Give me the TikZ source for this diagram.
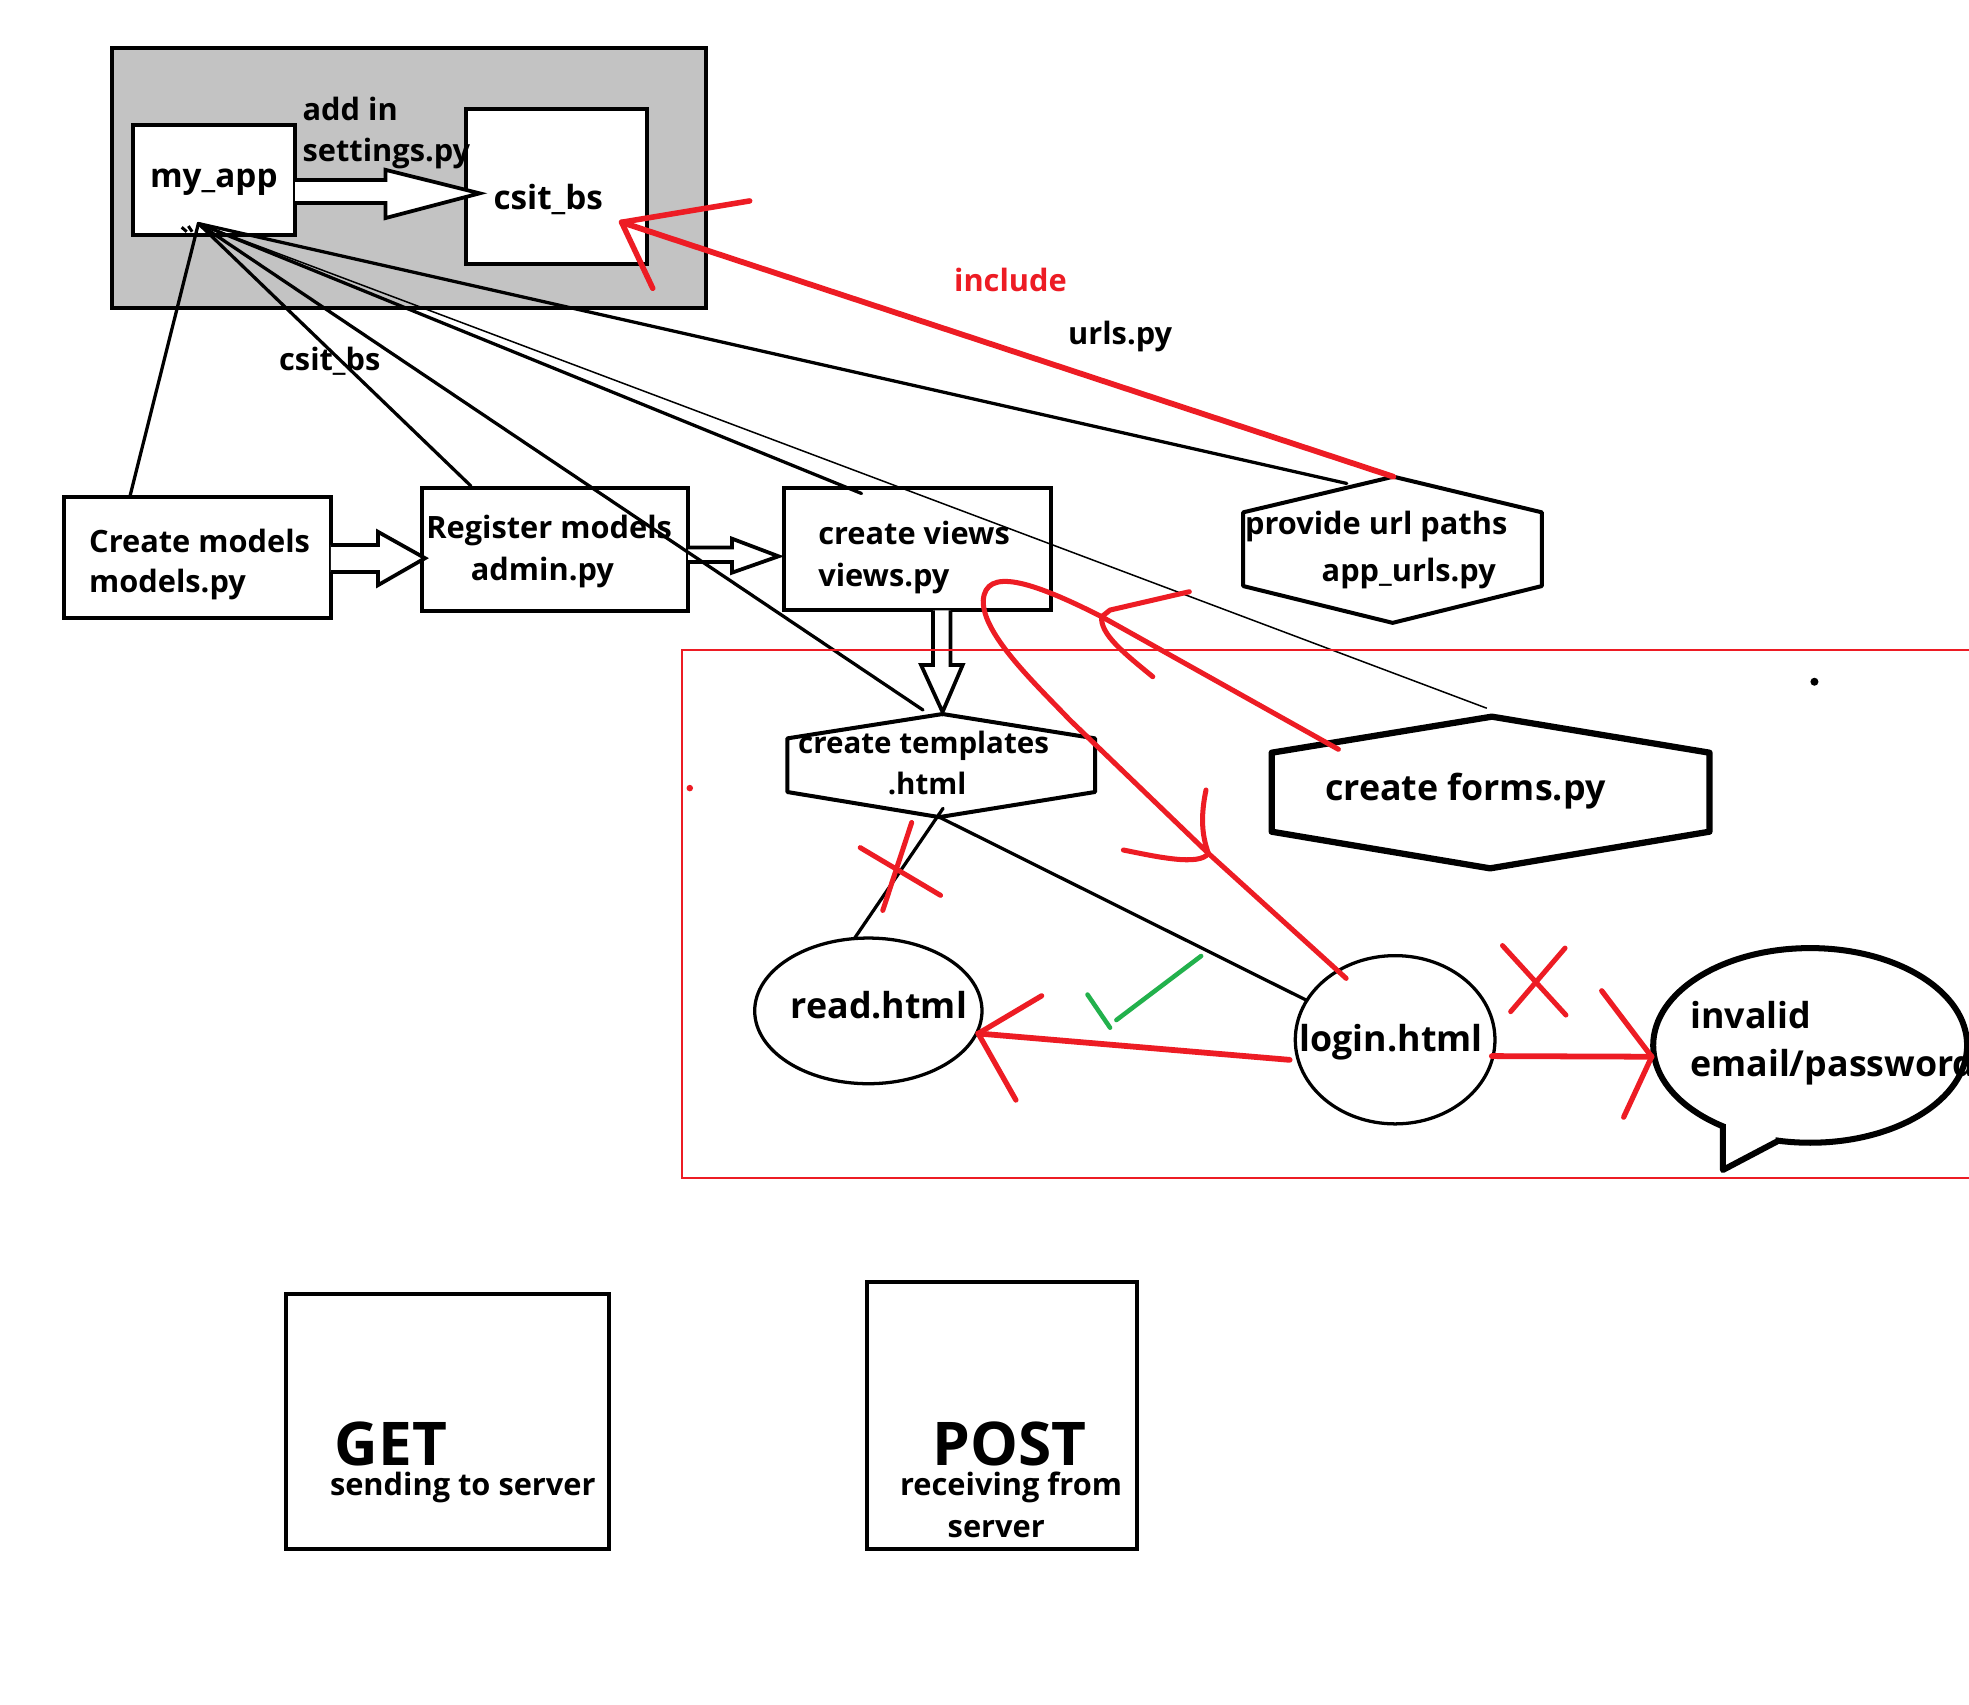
\documentclass[tikz,border=0pt]{standalone}
\usepackage{fontspec}
\setmainfont{Open Sans}
\usetikzlibrary{calc,shapes.geometric}
\definecolor{penred}{HTML}{ED1C24}
\definecolor{pengreen}{HTML}{22B14C}
\definecolor{panelgray}{HTML}{C3C3C3}
\begin{document}
\begin{tikzpicture}[x=1pt,y=-1pt,
  txt/.style={anchor=base west, inner sep=0pt, outer sep=0pt, font=\bfseries\fontsize{24.5}{30}\selectfont},
  midtxt/.style={txt, font=\bfseries\fontsize{26.5}{32}\selectfont},
  smalltxt/.style={txt, font=\bfseries\fontsize{23.5}{29}\selectfont},
  bigtxt/.style={txt, font=\bfseries\fontsize{28.5}{34}\selectfont},
  hugetxt/.style={txt, font=\bfseries\fontsize{48}{56}\selectfont},
  box/.style={draw, fill=white, line width=3.2pt, inner sep=0pt, outer sep=0pt},
  oval/.style={draw, fill=white, ellipse, line width=2.6pt, inner sep=0pt, outer sep=0pt},
  hexline/.style={draw, fill=white, line width=3.2pt, line join=round},
  fatarrow/.style={draw, fill=white, line width=3pt, line join=miter},
  link/.style={line width=2.6pt, line cap=round},
  thinlink/.style={line width=1.2pt},
  redpen/.style={draw=penred, line width=4pt, line cap=round, line join=round},
  redarrow/.style={redpen, line width=4.6pt},
  greenpen/.style={draw=pengreen, line width=3.6pt, line cap=round}]

% page
\fill[white] (0,0) rectangle (1568,1357);
\useasboundingbox (0,0) rectangle (1568,1357);

% project container with the app and project boxes
\node[box, fill=panelgray, minimum width=473pt, minimum height=207pt] (container) at (325.5,141.5) {};
\node[box, minimum width=129pt, minimum height=87.5pt] (myapp) at (170.5,143.25) {};
\node[box, minimum width=144pt, minimum height=123pt] (csit) at (443,148.5) {};

% workflow boxes
\node[box, minimum width=212.5pt, minimum height=96pt] (cm) at (157.25,444) {};
\node[box, minimum width=212pt, minimum height=97.5pt] (reg) at (442,437.75) {};
\node[box, minimum width=212.6pt, minimum height=97pt] (views) at (730.3,437.5) {};

% hexagons
\coordinate (urlTop) at (1109.6,379.6);
\coordinate (urlUR) at (1227.8,408);
\coordinate (urlLR) at (1227.8,466.7);
\coordinate (urlBot) at (1109,496);
\coordinate (urlLL) at (990,466.7);
\coordinate (urlUL) at (990,408);
\path[hexline] (urlTop) -- (urlUR) -- (urlLR) -- (urlBot) -- (urlLL) -- (urlUL) -- cycle;

\coordinate (tplTop) at (750.6,568.6);
\coordinate (tplUR) at (872,588);
\coordinate (tplLR) at (872,630.7);
\coordinate (tplBot) at (748,650.7);
\coordinate (tplLL) at (627,630.7);
\coordinate (tplUL) at (627,588);
\path[hexline] (tplTop) -- (tplUR) -- (tplLR) -- (tplBot) -- (tplLL) -- (tplUL) -- cycle;

\coordinate (frmTop) at (1188,570.7);
\coordinate (frmUR) at (1361.3,599.4);
\coordinate (frmLR) at (1361.3,662.3);
\coordinate (frmBot) at (1186.6,691.5);
\coordinate (frmLL) at (1012.7,662.3);
\coordinate (frmUL) at (1012.7,599.4);
\path[hexline, line width=5pt] (frmTop) -- (frmUR) -- (frmLR) -- (frmBot) -- (frmLL) -- (frmUL) -- cycle;

% html pages
\node[oval, minimum width=181pt, minimum height=116pt] (read) at (691.5,805) {};
\node[oval, minimum width=159pt, minimum height=134pt] (login) at (1111,828) {};

% speech bubble
\node[oval, line width=4.8pt, minimum width=250pt, minimum height=155pt] (bubble) at (1441.5,832.5) {};
\fill[white] (1374.6,892) -- (1374.6,928) -- (1414,911) -- (1414,903) -- cycle;
\draw[line width=4.8pt, line join=round] (1372,897.5) -- (1372,931.7) -- (1417,908);

% GET / POST boxes
\node[box, minimum width=257.4pt, minimum height=203pt] (get) at (356.3,1132) {};
\node[box, minimum width=214.6pt, minimum height=212.5pt] (post) at (797.9,1127.25) {};

% hollow block arrows
\draw[fatarrow] (myapp.east) -- ++(72,0) -- ++(0,-8) -- ++(75,18.7) -- ++(-75,19.7) -- ++(0,-12) -- ++(-72,0);
\draw[fatarrow] ($(cm.east)+(0,-10)$) -- ++(37.5,0) -- ++(0,-10.5) -- ++(37.5,21) -- ++(-37.5,21.5) -- ++(0,-10.5) -- ++(-37.5,0);
\draw[fatarrow] ($(reg.east)+(0,-1.75)$) -- ++(35,0) -- ++(0,-7) -- ++(37,14) -- ++(-37,13) -- ++(0,-8.5) -- ++(-35,0);
\draw[fatarrow] ($(views.south)+(12.7,0)$) -- ++(0,43.6) -- ++(-9.5,0) -- ++(17.1,37.4) -- ++(16,-37.4) -- ++(-9.6,0) -- ++(0,-43.6);

% links fanning out from my_app
\coordinate (hub) at (158,178);
\draw[link] (hub) -- ($(cm.north west)!.246!(cm.north east)$);
\draw[link] (hub) -- ($(reg.north west)!.184!(reg.north east)+(0,-2)$);
\draw[link] (hub) -- ($(tplTop)+(-15.6,-3.2)$);
\draw[link] (hub) -- ($(views.north west)!.292!(views.north east)+(0,4)$);
\draw[thinlink] (hub) -- ($(frmTop)+(-4,-6.7)$);
\draw[link] (hub) -- ($(urlUL)!.69!(urlTop)+(0,-3.4)$);
\draw[line width=2.4pt] (144.7,181) -- (148.7,184.5) (150,180) -- (153,184.5);

% templates to pages
\draw[link] ($(tplBot)+(3,-7)$) -- (read.101);
\draw[link] (tplBot) -- (login.156);

% working area
\node[draw=penred, line width=1.6pt, minimum width=1056.8pt, minimum height=420.3pt, inner sep=0pt] (zone) at (1071.6,727.75) {};
\fill[penred] (549.3,627.6) circle (2.6);
\fill[black] (1444.9,542.9) circle (3.2);

% include urls.py
\coordinate (incTip) at (495,177);
\draw[redarrow] (urlTop) -- (incTip);
\draw[redpen, line width=4.4pt] (597,160) -- (incTip) -- (519.8,229.6);

% forms <-> views <-> login loop
\coordinate (frmRed) at (1065.8,596.7);
\coordinate (loopHead) at (877.3,491.1);
\coordinate (loginHead) at (962.3,679.6);
\draw[redpen] (frmRed) -- (loopHead) .. controls (820,462) and (785,452) .. (783,478)
  .. controls (782,505) and (825,545) .. (852,573.4) -- (loginHead) -- (1072,779.1);
\draw[redpen] (947.1,471.2) -- (884,485.8) -- (loopHead) .. controls (876,505) and (895,520) .. (918,538.9);
\draw[redpen] (960.4,629.1) .. controls (956,650) and (957,665) .. (loginHead);
\draw[redpen] (894.6,676.9) .. controls (920,682) and (955,690) .. (loginHead);

% login -> read (valid) and login -> bubble (invalid)
\coordinate (readTip) at (779,823);
\draw[redarrow] (1027,844) -- (readTip);
\draw[redpen, line width=4.2pt] (829.5,793) -- (readTip) -- (809,876);
\coordinate (bubTip) at (1315.3,841.5);
\draw[redarrow] (1188,841) -- (bubTip);
\draw[redpen, line width=4.2pt] (1275.5,789) -- (bubTip) -- (1293,889.6);

% crosses and tick
\draw[redpen] (726,655) -- (703,725) (685,675) -- (749,713);
\draw[redpen] (1196.5,753) -- (1247,808.3) (1246.3,755) -- (1203,805.6);
\draw[greenpen] (866,792) -- (884,818.4) (889,812.3) -- (956.5,761.3);

% labels
\node[txt] (tAdd) at (241,95.6) {add in};
\node[txt] (tSettings) at (241,129) {settings.py};
\node[midtxt] (tMyapp) at (119.5,149) {my\_app};
\node[midtxt] (tCsit) at (393,167) {csit\_bs};
\node[txt] (tCsitLbl) at (222.3,294.7) {csit\_bs};
\node[txt, text=penred] (tInclude) at (759.8,232.3) {include};
\node[txt] (tUrls) at (850.6,274.7) {urls.py};
\node[txt] (tCm1) at (71,440) {Create models};
\node[txt] (tCm2) at (71,472) {models.py};
\node[txt] (tReg1) at (339.5,428.6) {Register models};
\node[txt] (tReg2) at (375,462) {admin.py};
\node[txt] (tViews1) at (651.6,434) {create views};
\node[txt] (tViews2) at (651.6,467) {views.py};
\node[txt] (tUrl1) at (991.5,426) {provide url paths};
\node[txt] (tUrl2) at (1052.5,463.3) {app\_urls.py};
\node[smalltxt] (tTpl1) at (635.6,600) {create templates};
\node[smalltxt] (tTpl2) at (707,633) {.html};
\node[bigtxt] (tFrm) at (1055.2,637.1) {create forms.py};
\node[bigtxt] (tRead) at (629.7,810.8) {read.html};
\node[bigtxt] (tLogin) at (1035,837.5) {login.html};
\node[bigtxt] (tInv1) at (1346,818.7) {invalid};
\node[bigtxt] (tInv2) at (1346,857.6) {email/password};
\node[hugetxt] (tGet) at (266.5,1166.7) {GET};
\node[txt] (tGet2) at (262.8,1190.6) {sending to server};
\node[hugetxt] (tPost) at (742.8,1166.7) {POST};
\node[txt] (tPost2) at (716.8,1190.6) {receiving from};
\node[txt] (tPost3) at (754.7,1224) {server};

\end{tikzpicture}
\end{document}
